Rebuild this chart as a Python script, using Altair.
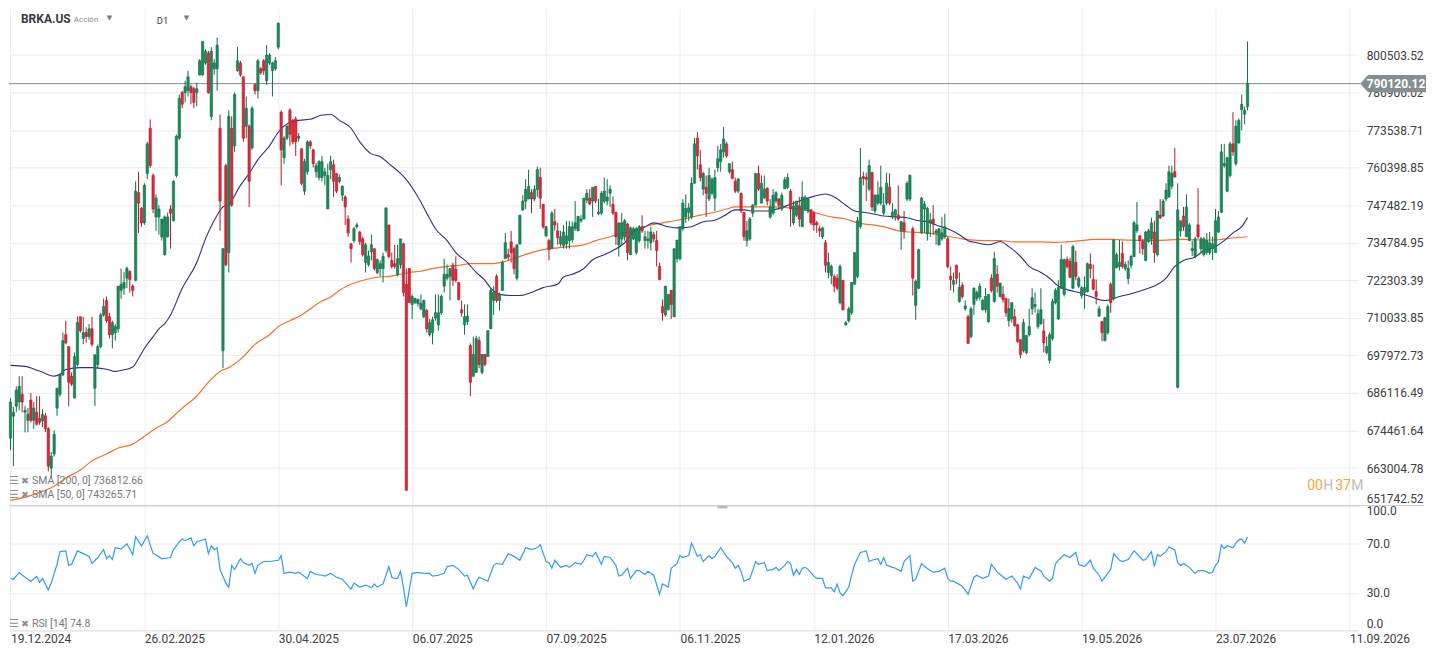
import altair as alt
import pandas as pd

# ---------------- data (prices in thousands) ----------------
opens = [
    672.1, 678.9, 682.0, 683.3, 685.7, 680.1, 677.6, 683.9, 677.6, 680.1, 678.2, 677.5, 679.0, 675.0, 663.0, 667.3, 681.4, 685.7, 691.8, 704.6, 700.8, 691.4, 684.5, 695.1, 710.4, 703.4, 705.3, 704.0, 706.5, 687.6, 695.1, 700.8, 711.0, 715.7, 710.4, 704.6, 705.3, 706.5, 719.0, 719.7, 723.0, 725.2, 720.4, 722.3, 751.8, 746.4, 741.5, 758.4, 774.2, 757.7, 743.5, 743.5, 736.8,
    730.8, 736.8, 746.2, 742.2, 757.7, 770.7, 786.9, 786.9, 787.6, 789.0, 788.3, 786.9, 793.3, 793.3, 797.6, 801.2, 778.4, 795.5, 795.5, 774.2, 699.5, 761.1, 731.5, 774.2, 768.0, 794.8, 797.6, 792.6, 774.9, 774.9, 767.3, 789.7, 787.6, 795.5, 798.4, 791.2, 797.6, 794.8, 795.5, 803.4, 779.9, 763.9, 770.7, 780.6, 777.0, 777.5, 770.7, 767.0, 752.3, 759.0, 769.4, 766.6, 759.0, 757.0,
    757.0, 757.7, 746.2, 759.7, 761.4, 758.4, 755.7, 750.9, 750.3, 742.8, 734.4, 735.5, 740.2, 738.4, 736.1, 728.2, 727.5, 731.8, 732.8, 724.9, 726.2, 726.2, 732.2, 740.8, 728.9, 727.8, 724.3, 727.5, 734.4, 721.0, 726.2, 714.4, 715.0, 714.7, 713.0, 710.4, 712.4, 704.6, 705.3, 710.0, 707.8, 711.7, 720.4, 723.0, 723.6, 727.3, 726.0, 721.6, 712.7, 707.8, 708.8, 701.1, 691.4, 692.6,
    702.7, 692.6, 698.3, 697.6, 706.5, 715.7, 723.6, 715.7, 719.0, 729.5, 730.8, 735.1, 732.8, 723.0, 734.4, 745.9, 748.9, 749.6, 751.8, 749.6, 752.9, 757.0, 747.8, 737.1, 735.5, 732.8, 741.9, 738.8, 734.4, 733.9, 734.4, 735.5, 735.8, 739.5, 738.8, 742.2, 742.8, 749.2, 749.9, 748.9, 753.9, 744.6, 744.8, 748.9, 748.9, 751.6, 747.8, 745.1, 734.1, 736.1, 736.8, 741.1, 730.8, 736.1,
    731.5, 735.5, 740.2, 735.5, 735.5, 734.8, 737.5, 735.5, 726.9, 713.7, 711.0, 712.7, 719.0, 710.4, 729.5, 729.5, 739.5, 743.5, 745.1, 743.5, 755.0, 770.7, 761.4, 753.0, 753.6, 749.6, 751.6, 749.9, 760.4, 762.5, 765.9, 768.7, 759.0, 759.7, 755.7, 752.3, 751.6, 745.1, 735.5, 736.1, 744.8, 747.5, 758.4, 748.2, 750.0, 753.3, 743.5, 744.8, 748.9, 749.6, 746.2, 753.1, 753.6, 752.3,
    741.5, 744.1, 747.2, 740.2, 746.2, 745.5, 745.9, 744.8, 741.5, 739.5, 736.8, 734.8, 724.9, 723.9, 723.6, 723.0, 715.0, 722.3, 707.8, 709.1, 711.7, 721.0, 723.6, 740.2, 757.3, 757.0, 753.0, 758.7, 745.5, 748.2, 748.2, 744.8, 748.2, 753.6, 743.5, 744.1, 744.1, 738.8, 741.5, 749.6, 749.6, 739.5, 714.1, 719.7, 738.1, 746.2, 737.8, 741.5, 742.8, 738.1, 734.1, 736.1, 736.8, 736.1,
    723.6, 721.0, 727.3, 715.4, 720.7, 713.0, 710.4, 704.0, 714.4, 716.3, 716.8, 712.7, 712.7, 708.8, 723.0, 715.4, 724.3, 717.0, 717.7, 716.3, 709.1, 709.7, 710.4, 707.8, 703.0, 699.5, 698.9, 704.6, 713.0, 713.7, 707.2, 708.1, 705.8, 698.9, 696.4, 703.4, 715.0, 709.7, 719.7, 717.7, 729.2, 728.6, 719.7, 728.2, 720.4, 717.3, 718.3, 718.6, 727.5, 722.6, 718.6, 710.6, 708.8, 702.7,
    705.3, 721.0, 716.3, 726.5, 726.9, 731.2, 726.2, 722.9, 727.3, 730.2, 738.8, 737.1, 735.2, 728.9, 735.2, 736.1, 738.4, 730.8, 744.1, 743.8, 749.6, 750.3, 754.0, 759.0, 687.9, 738.8, 743.8, 736.8, 735.5, 732.2, 730.2, 740.8, 732.8, 730.8, 731.5, 731.5, 732.8, 731.5, 738.4, 745.1, 761.1, 752.3, 757.7, 768.7, 761.8, 769.1, 780.8, 779.2, 781.9,
]
highs = [
    684.5, 681.8, 688.2, 691.4, 691.4, 682.0, 681.4, 686.1, 683.3, 685.1, 685.1, 681.0, 680.0, 675.5, 667.9, 674.5, 687.6, 692.2, 705.3, 709.1, 700.8, 692.6, 698.9, 710.5, 710.4, 710.4, 707.0, 708.0, 710.4, 698.2, 701.5, 711.7, 716.3, 717.0, 711.7, 709.1, 708.0, 720.4, 726.2, 725.0, 726.9, 725.6, 721.0, 755.7, 759.0, 746.9, 755.0, 769.4, 777.3, 758.4, 751.2, 747.5, 742.8,
    744.0, 745.0, 747.5, 756.0, 772.0, 786.2, 787.6, 791.2, 794.8, 789.7, 789.0, 790.4, 799.0, 805.5, 802.6, 802.0, 803.4, 799.0, 806.9, 779.1, 733.0, 761.8, 780.6, 778.4, 786.9, 803.4, 798.4, 792.6, 785.5, 775.6, 782.0, 790.4, 799.1, 796.2, 799.1, 804.1, 801.2, 798.0, 799.8, 812.5, 780.6, 771.4, 775.6, 781.3, 777.5, 778.4, 772.5, 767.0, 763.5, 770.0, 770.0, 767.0, 762.0, 763.0,
    764.5, 760.4, 761.8, 764.5, 763.2, 758.4, 758.0, 754.3, 750.9, 744.1, 734.8, 740.2, 741.5, 738.8, 736.8, 734.8, 732.2, 737.5, 732.8, 729.5, 728.9, 731.5, 746.6, 740.8, 731.5, 734.1, 734.1, 736.1, 734.8, 726.2, 726.2, 717.7, 716.6, 716.3, 717.7, 716.0, 713.0, 709.7, 710.4, 717.7, 717.7, 717.7, 729.5, 727.5, 726.2, 728.2, 730.2, 721.6, 715.7, 714.4, 714.4, 701.8, 704.0, 704.3,
    704.0, 698.3, 698.3, 705.9, 719.7, 720.4, 724.3, 718.3, 728.9, 738.1, 732.8, 738.8, 733.5, 734.1, 744.1, 750.9, 756.4, 759.7, 752.9, 754.3, 760.8, 760.4, 747.8, 740.5, 736.1, 745.5, 746.2, 741.5, 738.8, 740.8, 742.2, 742.2, 742.0, 748.9, 743.7, 744.1, 749.9, 753.0, 753.0, 753.6, 753.9, 749.6, 752.3, 757.0, 756.4, 754.3, 750.5, 745.1, 741.5, 744.8, 742.8, 741.5, 740.2, 740.2,
    740.2, 740.8, 744.1, 738.8, 738.8, 740.2, 738.5, 738.8, 728.2, 716.0, 720.4, 717.7, 719.0, 732.8, 735.7, 740.2, 749.6, 751.2, 748.2, 757.0, 770.7, 772.8, 766.6, 759.0, 757.7, 760.4, 757.0, 759.7, 768.0, 768.7, 774.6, 769.4, 761.8, 762.5, 757.0, 756.8, 751.8, 745.1, 742.2, 743.5, 747.8, 758.4, 761.1, 757.7, 757.7, 753.6, 749.6, 753.0, 752.3, 750.0, 751.8, 757.2, 758.4, 753.0,
    748.9, 748.9, 750.3, 755.7, 750.9, 750.0, 746.2, 745.5, 742.2, 740.5, 740.2, 735.7, 731.5, 727.5, 724.3, 724.3, 727.5, 722.3, 709.1, 713.7, 721.6, 731.5, 743.5, 767.3, 759.0, 758.7, 763.2, 759.0, 751.0, 755.7, 761.1, 751.6, 758.7, 758.4, 748.2, 746.2, 754.3, 742.2, 745.5, 755.7, 758.1, 740.2, 722.6, 732.8, 750.3, 748.9, 746.9, 744.8, 747.5, 739.5, 739.5, 743.5, 744.6, 736.8,
    726.9, 724.9, 727.5, 724.9, 721.6, 715.7, 711.0, 713.7, 720.0, 719.0, 721.3, 716.3, 719.7, 717.7, 724.3, 731.8, 727.3, 721.6, 720.4, 716.6, 716.3, 715.0, 713.0, 708.1, 703.0, 709.7, 704.6, 713.0, 719.7, 718.3, 713.0, 719.7, 709.7, 704.0, 705.3, 716.3, 719.7, 722.3, 734.1, 729.5, 730.2, 729.8, 734.1, 732.2, 723.6, 720.4, 723.6, 728.2, 731.2, 727.5, 722.6, 714.0, 709.1, 710.4,
    714.4, 721.6, 736.1, 731.5, 735.7, 735.2, 728.5, 728.9, 730.8, 742.2, 748.6, 737.5, 736.1, 738.8, 739.5, 743.2, 742.2, 745.5, 749.6, 749.6, 755.0, 761.1, 761.1, 767.3, 755.0, 742.2, 746.9, 751.2, 741.5, 735.5, 736.8, 753.3, 736.8, 736.8, 738.1, 738.4, 736.8, 746.2, 745.5, 768.7, 768.7, 763.9, 769.4, 779.9, 777.0, 777.7, 786.2, 781.9, 805.5,
]
lows = [
    668.5, 663.6, 680.1, 680.7, 680.1, 673.9, 673.9, 677.0, 675.0, 676.0, 676.2, 675.5, 674.0, 662.0, 660.0, 666.5, 679.0, 685.0, 691.4, 701.5, 682.0, 688.3, 684.5, 694.5, 705.3, 701.5, 702.0, 703.0, 700.8, 682.0, 693.9, 700.2, 710.4, 708.5, 703.4, 700.2, 702.7, 705.3, 716.3, 717.5, 719.7, 718.3, 717.0, 722.0, 738.1, 740.2, 740.8, 756.4, 760.4, 744.8, 738.8, 737.5, 735.5,
    730.5, 736.5, 732.8, 742.0, 757.0, 770.0, 781.3, 783.4, 785.5, 782.7, 781.3, 782.0, 793.0, 793.0, 797.0, 786.5, 777.0, 793.3, 787.6, 738.8, 693.9, 726.9, 724.9, 747.0, 765.9, 794.5, 792.6, 769.4, 770.7, 746.9, 766.6, 786.2, 784.8, 793.3, 793.3, 789.7, 796.9, 785.5, 794.8, 802.6, 754.3, 761.8, 770.0, 768.0, 768.5, 764.5, 769.5, 754.3, 751.0, 758.0, 767.0, 760.5, 757.0, 756.0,
    755.7, 754.3, 746.2, 756.4, 750.3, 751.6, 755.0, 748.9, 740.8, 736.8, 728.2, 734.8, 739.5, 734.1, 730.2, 724.9, 726.9, 728.9, 725.6, 724.3, 723.6, 721.6, 731.5, 729.5, 726.2, 726.2, 723.6, 726.2, 717.0, 656.3, 715.0, 709.7, 714.5, 713.7, 712.4, 710.0, 705.3, 704.0, 701.5, 709.1, 705.9, 711.0, 718.3, 722.3, 715.7, 720.4, 721.6, 715.7, 710.4, 704.6, 707.8, 685.1, 691.1, 692.6,
    693.9, 692.0, 694.5, 697.6, 706.5, 711.0, 715.0, 712.4, 719.0, 729.5, 728.9, 728.2, 724.3, 722.3, 734.1, 745.5, 746.2, 749.6, 744.8, 748.9, 750.3, 746.2, 739.5, 736.8, 728.9, 732.8, 738.8, 734.1, 733.5, 732.8, 732.8, 732.8, 734.8, 738.8, 738.8, 741.5, 742.8, 748.2, 747.5, 743.5, 748.2, 744.1, 744.1, 748.2, 747.5, 746.9, 744.1, 734.1, 730.2, 734.1, 735.5, 728.9, 730.8, 735.7,
    730.8, 734.8, 738.1, 732.8, 732.8, 732.2, 735.0, 726.9, 722.3, 709.1, 710.4, 712.4, 709.7, 710.4, 728.2, 728.9, 738.8, 741.5, 742.2, 742.8, 755.0, 759.7, 755.7, 750.9, 743.5, 748.9, 750.9, 745.5, 759.0, 759.0, 763.9, 763.9, 758.4, 756.4, 751.6, 751.6, 744.8, 735.5, 733.5, 735.5, 743.5, 747.5, 752.3, 748.2, 749.6, 747.5, 742.8, 744.1, 748.2, 745.9, 745.5, 753.0, 753.0, 740.2,
    740.8, 743.5, 740.2, 740.2, 745.5, 744.8, 740.8, 738.8, 738.1, 736.8, 736.1, 724.9, 723.0, 721.0, 718.3, 719.0, 714.4, 712.4, 707.5, 708.5, 711.0, 721.0, 723.0, 739.5, 754.3, 748.9, 752.3, 745.5, 744.8, 747.5, 747.5, 744.1, 747.5, 747.5, 742.8, 742.2, 742.2, 732.5, 736.1, 748.9, 748.9, 717.3, 709.4, 719.4, 737.9, 738.1, 735.5, 736.8, 737.5, 734.1, 733.9, 735.5, 736.1, 726.2,
    719.0, 718.3, 721.0, 715.0, 716.3, 712.4, 701.8, 703.4, 711.0, 715.5, 715.7, 712.4, 711.7, 708.5, 718.3, 715.0, 718.3, 716.6, 715.0, 710.4, 707.2, 708.5, 707.2, 702.0, 697.1, 698.9, 698.3, 704.0, 711.0, 711.7, 706.5, 707.8, 698.9, 698.3, 695.4, 702.7, 714.4, 709.4, 719.4, 717.0, 726.2, 723.0, 719.4, 722.3, 719.7, 716.3, 713.0, 718.3, 723.0, 719.0, 714.4, 710.4, 702.5, 702.5,
    704.6, 711.7, 715.7, 726.2, 725.6, 726.2, 725.5, 721.0, 726.2, 730.0, 738.1, 731.2, 730.8, 728.6, 734.8, 734.1, 728.2, 730.2, 742.8, 743.5, 748.9, 750.0, 753.0, 757.0, 687.6, 736.8, 738.8, 736.8, 735.5, 730.4, 729.5, 736.1, 731.5, 730.2, 730.8, 730.8, 729.0, 731.5, 738.1, 744.8, 760.4, 751.9, 757.0, 764.5, 761.1, 768.7, 773.5, 775.6, 780.6,
]
closes = [
    683.3, 680.1, 687.0, 688.2, 683.3, 680.7, 679.5, 677.6, 681.4, 676.4, 677.0, 679.5, 675.0, 663.6, 666.6, 673.3, 687.6, 691.8, 702.7, 702.0, 689.5, 688.9, 697.6, 708.5, 705.9, 705.3, 704.0, 706.5, 701.5, 698.2, 700.8, 711.0, 713.7, 709.1, 704.6, 708.5, 707.2, 720.4, 721.0, 721.6, 726.2, 722.6, 719.0, 752.3, 748.2, 741.5, 754.3, 768.7, 761.1, 746.2, 749.9, 746.2, 742.8,
    743.5, 743.5, 744.8, 755.7, 771.4, 784.8, 782.7, 789.0, 792.6, 786.9, 783.4, 788.3, 798.4, 805.5, 801.9, 786.9, 801.9, 797.6, 804.1, 748.9, 732.8, 727.5, 778.4, 747.5, 786.2, 798.4, 793.3, 770.7, 781.3, 755.7, 781.3, 787.6, 798.4, 794.1, 794.8, 800.5, 800.5, 797.6, 798.4, 812.2, 766.6, 770.7, 774.9, 772.1, 769.4, 769.4, 771.4, 755.0, 762.5, 769.4, 768.0, 761.8, 761.1, 762.5,
    762.5, 759.0, 757.7, 762.5, 755.7, 752.3, 757.0, 754.0, 746.9, 738.1, 732.8, 739.5, 740.8, 735.2, 730.8, 734.1, 730.4, 734.1, 726.2, 729.2, 727.8, 730.2, 746.6, 730.2, 726.9, 726.9, 729.5, 736.1, 718.3, 656.3, 715.0, 717.0, 716.3, 716.0, 714.7, 715.7, 706.5, 708.5, 709.4, 711.7, 711.7, 717.0, 724.3, 724.3, 726.2, 722.3, 722.3, 716.0, 711.7, 710.4, 710.6, 689.5, 698.3, 703.4,
    695.1, 698.3, 695.1, 705.9, 719.0, 718.3, 715.7, 717.7, 728.2, 734.8, 730.0, 731.5, 726.2, 734.1, 744.1, 748.9, 752.9, 753.9, 749.6, 752.9, 759.7, 749.9, 740.2, 740.2, 732.5, 744.8, 740.8, 736.5, 736.8, 738.4, 737.1, 740.2, 740.2, 741.5, 743.7, 742.8, 749.9, 751.6, 747.9, 753.6, 748.9, 745.1, 751.6, 752.3, 750.3, 753.0, 744.8, 736.8, 741.5, 741.5, 742.2, 731.5, 739.8, 739.5,
    739.5, 740.2, 738.8, 736.8, 736.1, 738.4, 736.1, 732.2, 722.6, 711.7, 720.4, 717.7, 714.4, 732.8, 735.7, 740.2, 748.2, 746.4, 746.6, 755.0, 768.7, 764.5, 757.0, 758.4, 751.6, 757.7, 756.4, 757.0, 763.5, 766.6, 770.4, 764.5, 761.8, 756.7, 752.3, 756.5, 745.5, 736.8, 738.8, 742.8, 747.5, 758.4, 753.0, 755.0, 753.0, 748.9, 746.9, 750.9, 751.8, 747.5, 750.9, 756.2, 757.0, 746.2,
    747.2, 748.9, 742.8, 750.3, 750.3, 749.6, 741.5, 740.8, 740.8, 738.8, 739.8, 727.3, 728.2, 726.9, 720.4, 719.7, 726.9, 712.7, 708.5, 713.0, 721.6, 731.5, 742.2, 757.0, 756.7, 756.4, 761.1, 746.9, 751.0, 751.0, 753.6, 747.5, 755.0, 748.2, 745.1, 745.9, 742.8, 741.9, 738.8, 755.0, 757.7, 723.0, 722.0, 732.5, 749.9, 747.8, 746.4, 742.4, 741.1, 738.8, 739.5, 738.1, 740.2, 726.9,
    722.6, 722.3, 723.0, 720.0, 717.0, 713.9, 701.8, 713.0, 719.7, 718.3, 720.4, 715.7, 717.0, 717.7, 719.0, 729.5, 720.4, 721.3, 716.0, 711.7, 713.0, 715.0, 707.5, 702.4, 698.3, 708.5, 704.3, 707.2, 716.6, 714.4, 711.4, 712.7, 702.0, 700.8, 704.6, 715.4, 719.0, 719.9, 729.2, 729.1, 726.9, 723.3, 733.5, 723.6, 723.0, 719.9, 719.9, 727.8, 726.2, 719.4, 717.0, 713.0, 705.3, 710.1,
    713.7, 715.0, 735.7, 730.8, 728.2, 726.9, 727.5, 726.2, 730.2, 741.5, 740.8, 735.5, 732.8, 738.4, 738.8, 741.5, 731.5, 745.5, 743.2, 748.9, 752.6, 759.0, 758.4, 757.2, 745.9, 742.2, 740.2, 746.9, 740.8, 732.8, 736.1, 736.8, 736.1, 736.1, 735.5, 734.8, 734.4, 742.2, 743.5, 765.9, 761.8, 763.9, 768.7, 765.9, 774.9, 777.0, 782.7, 780.6, 790.12,
]

sma50_idx = [0, 5, 10, 15, 17, 19, 24, 28, 33, 36, 38, 42, 44, 46, 49, 51, 53, 55, 59, 64, 67, 71, 73, 75, 79, 82, 85, 89, 92, 96, 99, 103, 107, 110, 113, 117, 120, 124, 127, 130, 134, 136, 140, 143, 146, 150, 153, 157, 160, 163, 165, 168, 172, 175, 179, 183, 188, 190, 193, 197, 200, 204, 207, 211, 214, 218, 221, 226, 229, 234, 238, 242, 245, 249, 252, 255, 260, 264, 268, 273, 276, 280, 283, 287, 290, 293, 297, 300, 305, 308, 312, 315, 318, 322, 326, 329, 332, 336, 340, 343, 347, 350, 354, 357, 360, 364, 367, 371, 376, 381, 385, 390, 393, 397, 400, 403, 407, 410, 414, 417, 420, 423, 425]
sma50_val = [694.8, 694.5, 693.0, 691.4, 692.0, 693.5, 694.1, 694.1, 693.6, 692.9, 693.2, 694.3, 697.0, 700.2, 704.0, 706.5, 708.2, 711.0, 719.7, 728.2, 736.1, 744.1, 746.9, 747.8, 754.3, 758.4, 763.2, 768.0, 772.8, 776.3, 777.0, 777.4, 778.9, 779.1, 777.0, 774.2, 769.4, 765.2, 764.3, 761.8, 758.4, 756.3, 750.3, 744.8, 739.5, 735.5, 731.5, 728.2, 724.9, 722.3, 719.7, 717.7, 717.3, 717.3, 718.3, 719.9, 721.0, 723.4, 724.3, 726.2, 729.1, 730.8, 732.2, 734.8, 738.4, 740.2, 741.5, 740.2, 739.8, 740.2, 741.9, 742.4, 743.8, 745.9, 745.9, 745.5, 745.5, 746.4, 747.8, 749.6, 750.5, 751.3, 750.3, 747.5, 745.5, 745.1, 744.4, 743.8, 743.5, 743.2, 742.2, 741.9, 740.8, 739.5, 737.5, 735.5, 734.8, 734.1, 735.2, 733.5, 730.2, 726.9, 724.9, 723.0, 720.4, 719.0, 718.3, 717.0, 715.7, 717.0, 717.9, 719.4, 720.4, 723.0, 726.9, 728.9, 730.0, 732.2, 733.5, 735.5, 738.1, 740.2, 743.27]

sma200_idx = [0, 6, 10, 15, 19, 24, 28, 33, 37, 42, 46, 51, 53, 59, 64, 68, 72, 75, 80, 84, 89, 92, 96, 100, 107, 110, 113, 117, 120, 124, 127, 130, 134, 137, 141, 144, 147, 151, 154, 158, 161, 165, 170, 174, 179, 183, 188, 192, 197, 201, 206, 211, 215, 219, 224, 228, 233, 237, 242, 246, 249, 253, 258, 262, 268, 273, 277, 282, 287, 291, 296, 300, 305, 309, 314, 318, 323, 327, 331, 336, 340, 345, 350, 354, 359, 363, 368, 372, 377, 385, 394, 403, 410, 415, 419, 425]
sma200_val = [653.3, 654.5, 655.7, 657.5, 660.0, 662.4, 665.2, 667.3, 669.1, 670.3, 672.7, 675.7, 676.6, 681.4, 685.1, 689.5, 692.9, 694.1, 697.6, 701.5, 704.6, 707.2, 709.1, 711.0, 715.5, 716.8, 719.0, 721.0, 722.0, 723.0, 723.4, 723.6, 724.3, 724.9, 725.3, 726.0, 726.5, 727.0, 727.3, 727.8, 727.8, 727.8, 728.6, 729.9, 731.5, 732.5, 733.1, 733.5, 734.1, 735.5, 736.8, 738.1, 738.8, 740.5, 741.5, 742.2, 743.2, 744.1, 745.1, 746.2, 746.9, 746.9, 746.9, 746.9, 746.5, 745.9, 744.8, 743.5, 742.8, 741.5, 740.8, 740.2, 738.8, 738.4, 738.1, 737.7, 736.8, 736.1, 735.7, 735.5, 735.5, 735.1, 735.1, 735.1, 734.9, 735.1, 735.5, 735.9, 735.9, 735.7, 735.6, 735.9, 735.7, 735.8, 736.3, 736.81]

rsi_idx = [
    0, 1, 3, 5, 7, 9, 10, 11, 13, 14, 16, 17, 19, 20, 21, 23, 25, 27, 28, 30, 32, 33, 34, 35, 36, 38, 40, 42, 43, 45, 47, 49, 50, 52,
    55, 56, 58, 59, 60, 62, 63, 64, 67, 68, 69, 70, 71, 72, 74, 75, 76, 77, 79, 80, 82, 83, 84, 85, 87, 89, 92, 93, 94, 96, 98, 99, 102, 103, 105, 107,
    108, 110, 112, 114, 117, 118, 120, 122, 124, 125, 126, 128, 130, 131, 132, 133, 134, 135, 136, 138, 140, 142, 144, 145, 147, 149, 150, 152, 154, 156, 157, 159, 160, 161,
    162, 164, 166, 167, 169, 171, 173, 175, 177, 179, 181, 182, 184, 185, 186, 187, 189, 191, 192, 194, 196, 197, 198, 200, 201, 203, 204, 206, 208, 209, 210, 212, 213, 215,
    216, 218, 219, 221, 223, 224, 226, 227, 229, 230, 231, 233, 234, 236, 237, 238, 240, 241, 242, 244, 246, 248, 249, 250, 251, 252, 254, 255, 256, 257, 259, 260, 262, 263, 264, 266, 267, 268, 269,
    270, 271, 272, 273, 274, 276, 277, 279, 280, 282, 283, 284, 285, 286, 288, 289, 290, 292, 294, 295, 296, 298, 299, 300, 301, 303, 304, 306, 307, 309, 310, 311, 313, 314, 316, 317, 319, 321, 322, 323,
    324, 327, 329, 331, 332, 334, 336, 337, 339, 340, 342, 344, 346, 347, 348, 350, 352, 353, 354, 355, 357, 358, 359, 360, 362, 364, 366, 367, 369, 371, 372, 374, 375,
    376, 377, 378, 379, 381, 382, 384, 386, 387, 389, 390, 392, 393, 394, 395, 397, 398, 400, 401, 402, 403, 405, 407, 408, 410, 412, 413, 414, 415, 416, 417, 418, 420, 421, 422, 423, 424, 425,
]
rsi_val = [
    41.6, 41.0, 46.4, 42.6, 39.4, 43.2, 38.5, 41.6, 32.5, 37.9, 53.0, 63.1, 63.7, 52.1, 53.0, 63.7, 61.5, 59.3, 53.6, 58.4, 64.7, 57.4, 59.9, 56.8, 66.2, 65.3, 69.4, 60.6, 75.1, 67.8, 75.7, 61.5, 60.6, 57.4,
    58.4, 64.7, 71.0, 73.2, 71.9, 74.1, 67.8, 71.0, 73.2, 61.5, 67.8, 64.7, 66.2, 48.9, 37.9, 34.7, 52.1, 48.9, 57.4, 54.3, 52.1, 53.6, 45.7, 52.1, 55.2, 55.2, 56.2, 59.9, 45.7, 46.7, 45.7, 46.7, 41.6, 47.3, 44.8, 44.2,
    43.5, 45.7, 42.6, 41.0, 33.1, 37.9, 34.7, 36.3, 34.1, 37.2, 34.7, 37.2, 51.1, 42.6, 41.6, 41.6, 47.3, 34.7, 18.9, 45.7, 46.4, 45.7, 45.7, 43.5, 44.2, 45.7, 51.1, 52.1, 48.9, 43.5, 44.2, 33.1, 38.5, 42.6,
    41.6, 39.4, 52.1, 53.6, 53.0, 61.5, 59.3, 56.2, 66.2, 64.7, 66.2, 68.8, 55.2, 54.3, 49.8, 56.2, 50.5, 52.1, 50.5, 54.3, 53.0, 56.2, 60.6, 59.3, 62.5, 53.0, 59.3, 58.4, 52.1, 43.5, 44.2, 49.8, 41.6, 47.9,
    47.9, 44.8, 47.3, 44.2, 29.0, 37.2, 34.7, 49.8, 53.6, 59.9, 58.4, 59.9, 70.0, 59.3, 60.6, 55.2, 59.9, 57.4, 59.3, 66.2, 59.3, 54.3, 49.8, 52.1, 47.3, 39.4, 41.6, 47.9, 55.2, 53.0, 54.3, 47.9, 48.9, 50.5, 47.9, 52.1, 55.2, 53.6, 44.2,
    48.9, 44.8, 49.8, 50.5, 48.9, 43.5, 41.6, 41.6, 34.1, 34.1, 30.9, 37.2, 30.0, 27.8, 34.7, 44.2, 53.0, 62.5, 63.7, 55.2, 56.2, 57.4, 53.0, 58.4, 52.1, 50.5, 49.8, 47.3, 55.2, 59.9, 39.4, 41.0, 53.6, 51.1, 47.9, 46.7, 47.3, 49.8, 41.6, 39.4,
    39.4, 35.3, 29.0, 42.6, 44.2, 41.6, 43.5, 53.0, 46.7, 44.8, 41.0, 43.5, 37.9, 33.1, 43.5, 41.6, 50.5, 48.9, 47.9, 43.5, 39.4, 41.6, 53.0, 56.2, 60.6, 58.4, 62.5, 53.0, 51.1, 56.2, 49.8, 44.2, 39.4,
    42.6, 45.7, 48.9, 61.5, 56.2, 55.2, 56.8, 63.7, 61.5, 56.2, 56.8, 63.1, 51.1, 60.6, 59.3, 63.1, 66.9, 64.7, 54.3, 52.1, 53.6, 50.5, 45.7, 47.9, 47.9, 45.7, 46.7, 52.1, 55.2, 68.5, 65.6, 67.8, 66.2, 70.0, 72.6, 73.2, 70.0, 74.8,
]

price_ticks = [651742.52, 663004.78, 674461.64, 686116.49, 697972.73, 710033.85,
               722303.39, 734784.95, 747482.19, 760398.85, 773538.71, 786906.02, 800503.52]
rsi_ticks = [0, 30, 70, 100]
date_tick_idx = [0, 46, 92, 138, 184, 230, 276, 322, 368, 414, 460]
date_labels = ["19.12.2024", "26.02.2025", "30.04.2025", "06.07.2025", "07.09.2025", "06.11.2025",
               "12.01.2026", "17.03.2026", "19.05.2026", "23.07.2026", "11.09.2026"]
last_price = 790120.12
sma200_last = 736812.66
sma50_last = 743265.71
rsi_last = 74.8

# ---------------- frames ----------------
n = min(len(opens), len(highs), len(lows), len(closes))
candles = pd.DataFrame({"i": list(range(n)), "o": opens[:n], "h": highs[:n],
                        "l": lows[:n], "c": closes[:n]})
candles["dir"] = ["up" if c >= o else "down" for o, c in zip(candles["o"], candles["c"])]
candles["x0"] = candles["i"] - 0.4
candles["x1"] = candles["i"] + 0.4

m50 = min(len(sma50_idx), len(sma50_val))
m200 = min(len(sma200_idx), len(sma200_val))
mr = min(len(rsi_idx), len(rsi_val))
sma50 = pd.DataFrame({"i": sma50_idx[:m50], "v": sma50_val[:m50]})
sma200 = pd.DataFrame({"i": sma200_idx[:m200], "v": sma200_val[:m200]})
rsi = pd.DataFrame({"i": rsi_idx[:mr], "r": rsi_val[:mr]})
price_df = pd.DataFrame({"p": [last_price / 1000.0], "lbl": [f"{last_price:.2f}"]})
dummy = pd.DataFrame({"k": [0]})

# ---------------- styling ----------------
W, H1, H2 = 1352, 498, 125
G_FILL, G_LINE = "#1b8b5b", "#0f6c45"
R_FILL, R_LINE = "#e1283b", "#a81d2b"
GRID = "#ececec"
LBL = "#404040"

xscale = alt.Scale(domain=[-0.51, 463.0], nice=False, zero=False)
yscale = alt.Scale(type="log", domain=[price_ticks[0] / 1000.0, 817.62], nice=False)
rscale = alt.Scale(domain=[0, 100], nice=False)

xaxis_main = alt.Axis(values=date_tick_idx, labels=False, ticks=False, domain=False,
                      grid=True, gridColor=GRID, title=None)
yaxis_main = alt.Axis(orient="right", values=[t / 1000.0 for t in price_ticks],
                      labelExpr="format(datum.value * 1000, '.2f')",
                      grid=True, gridColor=GRID, ticks=False, domain=False,
                      labelPadding=8, labelFontSize=12, labelColor=LBL, labelFont="Roboto",
                      labelFlush=True, title=None)

date_expr = "''"
for ti, tl in reversed(list(zip(date_tick_idx, date_labels))):
    date_expr = f"datum.value == {ti} ? '{tl}' : ({date_expr})"

xaxis_rsi = alt.Axis(values=date_tick_idx, labelExpr=date_expr, labelAlign="left",
                     labelFlush=False, labelPadding=3, ticks=False, domain=True,
                     domainColor="#e2e2e2", grid=True, gridColor=GRID, labelFontSize=12,
                     labelColor=LBL, labelFont="Roboto", title=None)
raxis = alt.Axis(orient="right", values=rsi_ticks, format=".1f", grid=True, gridColor=GRID,
                 ticks=False, domain=False, labelPadding=8, labelFontSize=12, labelColor=LBL,
                 labelFont="Roboto", labelFlush=True, title=None)


def X(field):
    return alt.X(field, scale=xscale, axis=xaxis_main)


def Y(field):
    return alt.Y(field, scale=yscale, axis=yaxis_main)


def label(text, x, y, size, color, weight="normal", font="Roboto", align="left"):
    return alt.Chart(dummy).mark_text(
        text=text, fontSize=size, color=color, fontWeight=weight, font=font,
        align=align, baseline="middle"
    ).encode(x=alt.value(x), y=alt.value(y))


price_line = alt.Chart(price_df).mark_rule(color="#7f8b8d", strokeWidth=1).encode(
    y=Y("p:Q"), x=alt.value(0), x2=alt.value(W + 2))

sma200_line = alt.Chart(sma200).mark_line(color="#f2702a", strokeWidth=1.2,
                                          interpolate="monotone").encode(x=X("i:Q"), y=Y("v:Q"))
sma50_line = alt.Chart(sma50).mark_line(color="#2f2f86", strokeWidth=1.1,
                                        interpolate="monotone").encode(x=X("i:Q"), y=Y("v:Q"))

wicks = alt.Chart(candles).mark_rule(strokeWidth=1).encode(
    x=X("i:Q"), y=Y("l:Q"), y2="h:Q",
    color=alt.Color("dir:N", scale=alt.Scale(domain=["up", "down"], range=[G_LINE, R_LINE]),
                    legend=None))

bodies = alt.Chart(candles).mark_rect(strokeWidth=0.6).encode(
    x=X("x0:Q"), x2="x1:Q", y=Y("o:Q"), y2="c:Q",
    fill=alt.Fill("dir:N", scale=alt.Scale(domain=["up", "down"], range=[G_FILL, R_FILL]),
                  legend=None),
    stroke=alt.Stroke("dir:N", scale=alt.Scale(domain=["up", "down"], range=[G_LINE, R_LINE]),
                      legend=None))

tag_shape = alt.Chart(price_df).mark_point(
    shape="M -1 0 L -0.76 -0.26 L 1 -0.26 L 1 0.26 L -0.76 0.26 Z",
    size=4356, filled=True, color="#858f91", opacity=1, strokeWidth=0
).encode(x=alt.value(W + 35), y=Y("p:Q"))
tag_text = alt.Chart(price_df).mark_text(
    color="white", fontWeight="bold", fontSize=12, font="Roboto", align="center",
    baseline="middle").encode(x=alt.value(W + 38), y=Y("p:Q"), text="lbl:N")

header = [
    label("BRKA.US", 12, 10, 12, "#3a3a3a", weight="bold"),
    label("Acción", 65, 11, 8, "#8a8a8a"),
    label("▼", 98, 9, 7, "#7a7a7a", font="DejaVu Sans"),
    label("D1", 148, 12, 9.5, "#444444"),
    label("▼", 175, 9, 7, "#7a7a7a", font="DejaVu Sans"),
]
ICON = "#8f8f8f"
legend_main = [
    label("☰", 0, 473.5, 11, ICON, font="DejaVu Sans"),
    label("✖", 12, 473.5, 9.5, ICON, font="DejaVu Sans"),
    label(f"SMA [200, 0] {sma200_last:.2f}", 23, 473.5, 10.5, "#777777"),
    label("☰", 0, 487, 11, ICON, font="DejaVu Sans"),
    label("✖", 12, 487, 9.5, ICON, font="DejaVu Sans"),
    label(f"SMA [50, 0] {sma50_last:.2f}", 23, 487, 10.5, "#777777"),
]
timer = [
    label("00", 1301, 478, 14, "#f7a23a"),
    label("H", 1317, 478, 14, "#bdbdbd"),
    label("37", 1329, 478, 14, "#f7a23a"),
    label("M", 1345, 478, 14, "#bdbdbd"),
]

main = alt.layer(price_line, sma200_line, sma50_line, wicks, bodies, tag_shape, tag_text,
                 *header, *legend_main, *timer).properties(width=W, height=H1)

rsi_line = alt.Chart(rsi).mark_line(color="#2f9bf2", strokeWidth=1.2).encode(
    x=alt.X("i:Q", scale=xscale, axis=xaxis_rsi),
    y=alt.Y("r:Q", scale=rscale, axis=raxis))
separator = alt.Chart(dummy).mark_rule(color="#c9c9c9", strokeWidth=1).encode(
    x=alt.value(0), x2=alt.value(W + 66), y=alt.value(0))
handle = alt.Chart(dummy).mark_rule(color="#b8b8b8", strokeWidth=2.5).encode(
    x=alt.value(710), x2=alt.value(720), y=alt.value(1.5))
legend_rsi = [
    label("☰", 0, 119, 11, ICON, font="DejaVu Sans"),
    label("✖", 12, 119, 9.5, ICON, font="DejaVu Sans"),
    label(f"RSI [14] {rsi_last}", 23, 119, 10.5, "#777777"),
]
rsi_chart = alt.layer(rsi_line, separator, handle, *legend_rsi).properties(width=W, height=H2)

chart = alt.vconcat(main, rsi_chart, spacing=0, bounds="flush").properties(
    padding={"left": 0, "top": 0, "right": 0, "bottom": 0}
).configure(font="Roboto").configure_view(strokeWidth=0, stroke="transparent")

chart.save("out.html", embed_options={"renderer": "svg", "actions": False})
